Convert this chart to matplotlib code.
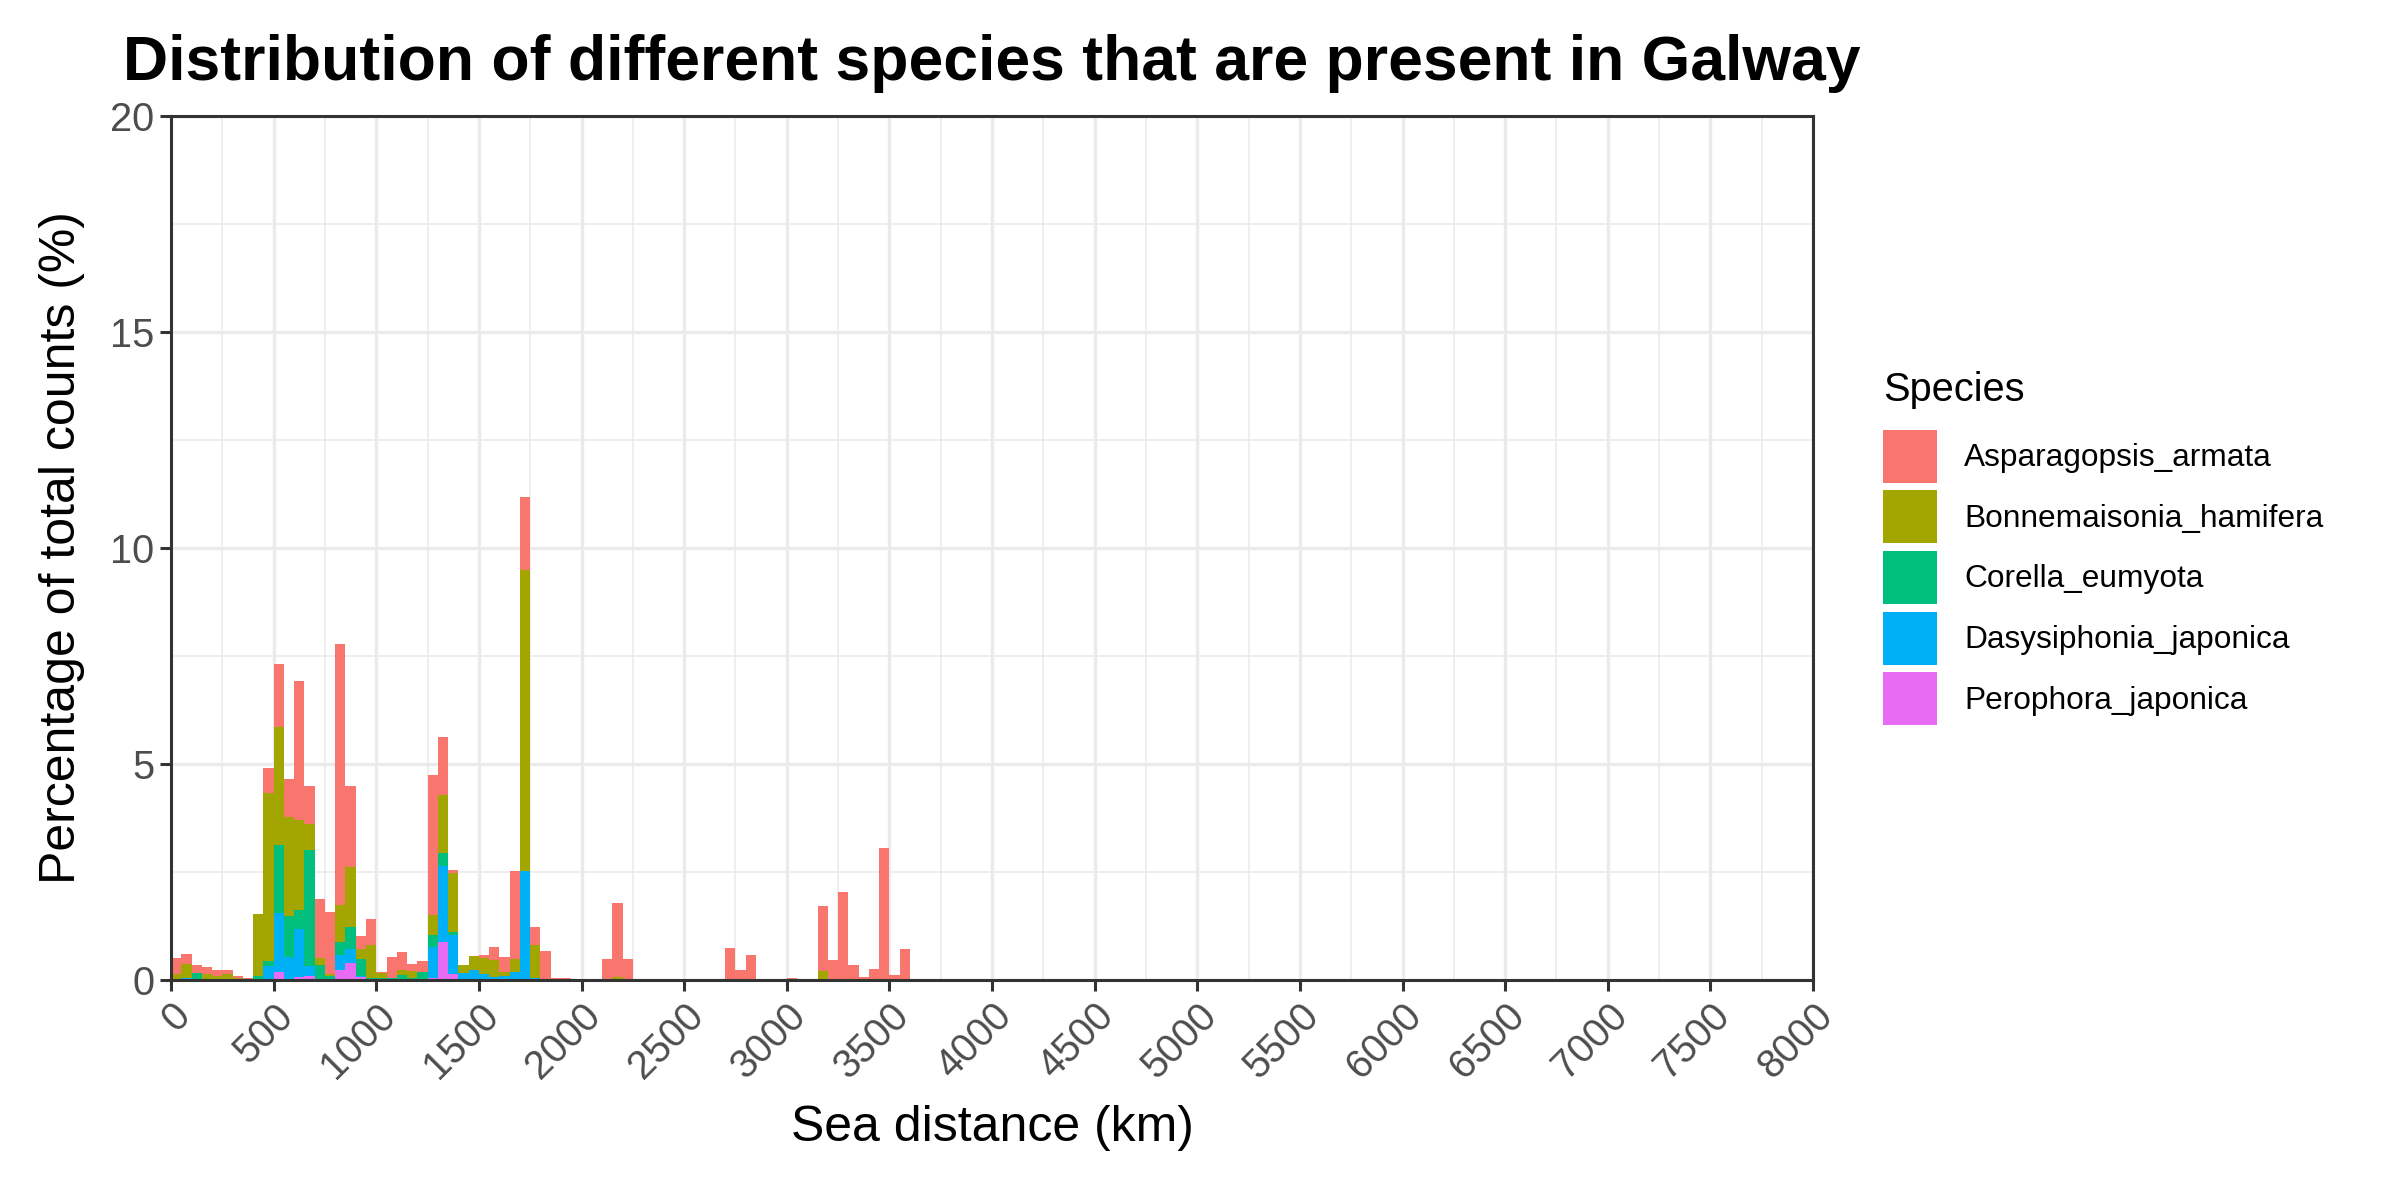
import numpy as np
import matplotlib
matplotlib.use("Agg")
import matplotlib.pyplot as plt
from matplotlib.patches import Patch

plt.rcParams['font.family'] = ['Liberation Sans', 'DejaVu Sans']

# histogram bins of 50 km, left edges 0 .. 3550 km (nothing beyond)
bin_width = 50
bin_start_km = list(range(0, 3600, bin_width))

species = ["Asparagopsis_armata", "Bonnemaisonia_hamifera", "Corella_eumyota",
           "Dasysiphonia_japonica", "Perophora_japonica"]
colours = ["#F8766D", "#A3A500", "#00BF7D", "#00B0F6", "#E76BF3"]

# percentage of total counts per bin
asparagopsis = [0.36, 0.23, 0.18, 0.16, 0.14, 0.09, 0.04, 0.03, 0.00, 0.57,
                1.46, 0.88, 3.21, 0.88, 1.36, 1.43, 6.04, 1.88, 0.30, 0.60,
                0.03, 0.48, 0.43, 0.16, 0.25, 3.25, 1.35, 0.07, 0.00, 0.00,
                0.08, 0.30, 0.34, 2.05, 1.69, 0.40, 0.66, 0.05, 0.02, 0.00,
                0.00, 0.02, 0.49, 1.73, 0.49, 0.00, 0.00, 0.00, 0.00, 0.00,
                0.00, 0.00, 0.00, 0.00, 0.74, 0.23, 0.58, 0.03, 0.00, 0.00,
                0.05, 0.03, 0.00, 1.51, 0.47, 2.03, 0.35, 0.08, 0.26, 3.05,
                0.12, 0.72]
bonnemaisonia = [0.14, 0.33, 0.00, 0.14, 0.09, 0.14, 0.05, 0.02, 1.44, 3.91,
                 2.74, 2.29, 2.07, 0.60, 0.17, 0.05, 0.84, 1.38, 0.23, 0.76,
                 0.12, 0.00, 0.10, 0.16, 0.00, 0.45, 1.35, 1.37, 0.19, 0.33,
                 0.36, 0.39, 0.10, 0.29, 6.98, 0.78, 0.00, 0.00, 0.03, 0.00,
                 0.00, 0.00, 0.00, 0.06, 0.00, 0.00, 0.00, 0.00, 0.00, 0.00,
                 0.00, 0.00, 0.00, 0.00, 0.00, 0.00, 0.00, 0.00, 0.00, 0.00,
                 0.00, 0.00, 0.00, 0.21, 0.00, 0.00, 0.00, 0.00, 0.00, 0.00,
                 0.00, 0.00]
corella = [0.00, 0.00, 0.17, 0.00, 0.00, 0.00, 0.00, 0.00, 0.09, 0.10,
           1.57, 0.95, 0.44, 2.67, 0.31, 0.10, 0.31, 0.51, 0.39, 0.05,
           0.04, 0.05, 0.12, 0.05, 0.19, 0.29, 0.30, 0.05, 0.00, 0.00] + [0.00] * 42
dasysiphonia = [0.00, 0.05, 0.00, 0.00, 0.00, 0.00, 0.00, 0.00, 0.00, 0.33,
                1.36, 0.50, 1.11, 0.23, 0.03, 0.00, 0.35, 0.33, 0.04, 0.00,
                0.00, 0.00, 0.00, 0.00, 0.00, 0.72, 1.74, 0.91, 0.16, 0.23,
                0.14, 0.08, 0.09, 0.19, 2.52, 0.04] + [0.00] * 36
perophora = [0.00] * 10 + [0.19, 0.03, 0.08, 0.10, 0.00, 0.00, 0.23, 0.39, 0.06, 0.00,
                           0.00, 0.00, 0.00, 0.00, 0.00, 0.04, 0.89, 0.14] + [0.00] * 44

series = [asparagopsis, bonnemaisonia, corella, dasysiphonia, perophora]

fig = plt.figure(figsize=(12, 6), dpi=200)
fig.subplots_adjust(left=171/2400, right=1813/2400, top=1-116/1200, bottom=1-980/1200)
ax = fig.add_subplot(111)

# ggplot stacks the first level on top, so build from the last one upwards
bottom = np.zeros(len(bin_start_km))
for name, col, vals in reversed(list(zip(species, colours, series))):
    vals = np.array(vals)
    ax.bar(bin_start_km, vals, width=bin_width, align='edge', bottom=bottom,
           color=col, linewidth=0, zorder=3)
    bottom += vals

ax.set_xlim(0, 8000)
ax.set_ylim(0, 20)
ax.set_xticks(np.arange(0, 8001, 500))
ax.set_xticks(np.arange(250, 8000, 500), minor=True)
ax.set_yticks([0, 5, 10, 15, 20])
ax.set_yticks([2.5, 7.5, 12.5, 17.5], minor=True)
ax.grid(which='major', color='#EBEBEB', linewidth=1.2, zorder=0)
ax.grid(which='minor', color='#EBEBEB', linewidth=0.6, zorder=0)
ax.set_axisbelow(True)
for s in ax.spines.values():
    s.set_color('#333333')
    s.set_linewidth(1.1)
    s.set_zorder(5)

ax.tick_params(which='major', length=4, width=1.1, color='#333333',
               labelsize=14.3, labelcolor='#4D4D4D', pad=2)
ax.tick_params(which='minor', length=0)
for lab in ax.get_xticklabels():
    lab.set_rotation(45)
    lab.set_ha('right')
    lab.set_va('top')
    lab.set_rotation_mode('anchor')

ax.set_xlabel("Sea distance (km)", fontsize=18, labelpad=7)
ax.set_ylabel("Percentage of total counts (%)", fontsize=18, labelpad=9)
ax.set_title("Distribution of different species that are present in Galway",
             fontsize=22.5, fontweight='bold', pad=13)

handles = [Patch(facecolor=c, edgecolor='none') for c in colours]
leg = ax.legend(handles, species, title="Species", loc='center left',
                bbox_to_anchor=(1.035, 0.5), frameon=False, fontsize=11.4,
                title_fontsize=14.3, handlelength=1.7, handleheight=2.2,
                labelspacing=0.24, handletextpad=0.85, borderaxespad=0)
leg._legend_box.align = "left"
leg._legend_box.sep = 7.5

fig.savefig("out.png", dpi=200)
